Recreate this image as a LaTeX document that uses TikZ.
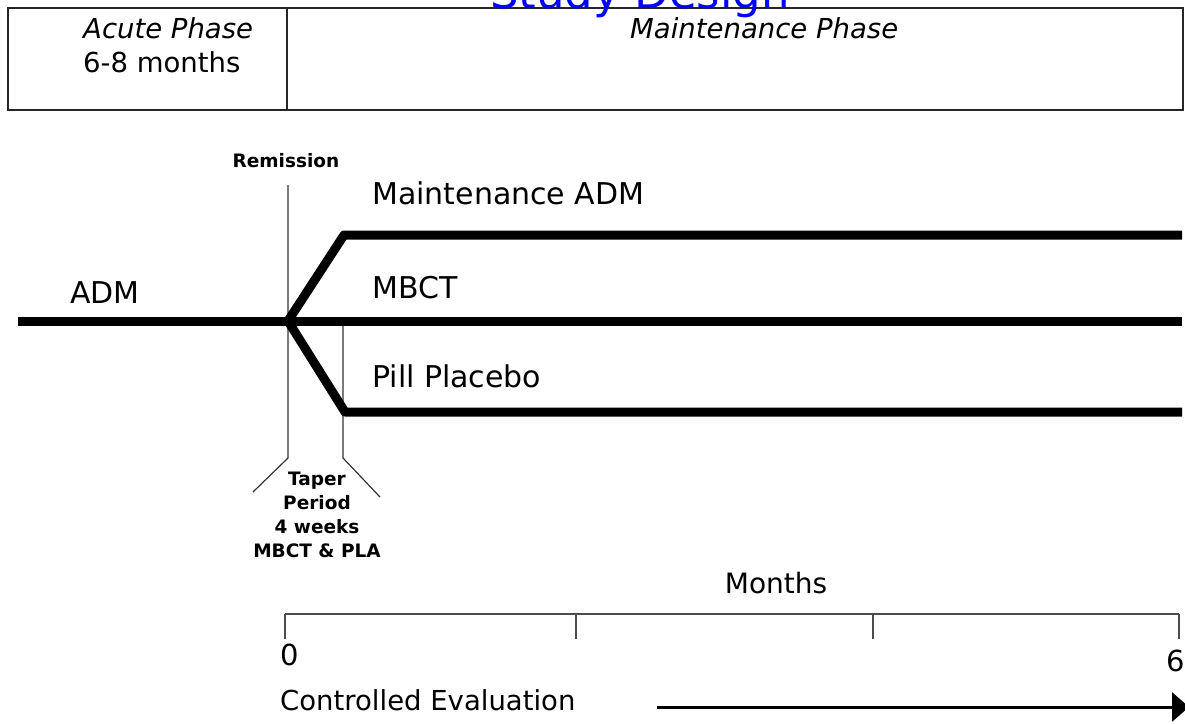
\documentclass[tikz,border=0pt]{standalone}
\usepackage{fontspec}
\setmainfont{DejaVu Sans}
\usetikzlibrary{arrows.meta}
\begin{document}
\begin{tikzpicture}[x=1pt,y=-1pt,
  lbl/.style={inner sep=0pt, anchor=base west, font=\fontsize{30}{36}\selectfont},
  phase/.style={inner sep=0pt, anchor=base west, font=\fontsize{27.5}{33}\selectfont\itshape},
  small/.style={inner sep=0pt, anchor=base, font=\fontsize{18.5}{24}\selectfont\bfseries, align=center},
  axlbl/.style={inner sep=0pt, anchor=base, font=\fontsize{29}{34}\selectfont},
  thickln/.style={line width=9pt, line join=round},
  thinln/.style={line width=1.2pt, draw=black!80},
  boxln/.style={line width=2pt, draw=black!85},
  axisln/.style={line width=1.5pt, draw=black!70}]
\useasboundingbox (0,0) rectangle (1185,723);
\fill[white] (0,0) rectangle (1185,723);

% top phase box
\coordinate (boxTL) at (8,8);
\coordinate (boxBR) at (1183,110);
\coordinate (divT) at (287,8);
\coordinate (divB) at (287,110);
\draw[boxln] (boxTL) rectangle (boxBR);
\draw[boxln] (divT) -- (divB);
\node[text=blue, font=\fontsize{45}{54}\selectfont, anchor=base, inner sep=0pt] (title) at (640,8) {Study Design};
\node[phase] (acute) at (83,38) {Acute Phase};
\node[inner sep=0pt, anchor=base west, font=\fontsize{27.5}{33}\selectfont] (months68) at (83,72) {6-8 months};
\node[phase] (maint) at (630,38) {Maintenance Phase};

% remission marker
\node[small] (remission) at (286,167) {Remission};
\coordinate (remtop) at (288,185);
\coordinate (remleg) at (288,458);
\coordinate (remfoot) at (253,492);
\draw[thinln] (remtop) -- (remleg) -- (remfoot);

% taper marker
\coordinate (tapertop) at (343,321);
\coordinate (taperleg) at (343,458);
\coordinate (taperfoot) at (380,497);
\draw[thinln] (tapertop) -- (taperleg) -- (taperfoot);
\node[small] (taper) at (317,557) {Taper\\Period\\4 weeks\\MBCT \& PLA};

% treatment lines
\coordinate (adm0) at (18,321);
\coordinate (R) at (288,321);
\coordinate (mbct1) at (1182,321);
\coordinate (up) at (344,235);
\coordinate (up1) at (1182,235);
\coordinate (dn) at (345,412);
\coordinate (dn1) at (1182,412);
\draw[thickln] (adm0) -- (mbct1);
\draw[thickln] (R) -- (up) -- (up1);
\draw[thickln] (R) -- (dn) -- (dn1);

\node[lbl] (adm) at (70,303) {ADM};
\node[lbl] (madm) at (372,204) {Maintenance ADM};
\node[lbl] (mbct) at (372,298) {MBCT};
\node[lbl] (pill) at (372,387) {Pill Placebo};

% months axis
\coordinate (ax0) at (285,614);
\coordinate (ax2) at (576,614);
\coordinate (ax4) at (873,614);
\coordinate (ax6) at (1179,614);
\coordinate (t0) at (285,639);
\coordinate (t2) at (576,639);
\coordinate (t4) at (873,639);
\coordinate (t6) at (1179,639);
\draw[axisln] (ax0) -- (ax6);
\draw[axisln] (ax0) -- (t0);
\draw[axisln] (ax2) -- (t2);
\draw[axisln] (ax4) -- (t4);
\draw[axisln] (ax6) -- (t6);
\node[axlbl, font=\fontsize{28}{34}\selectfont] (monthslbl) at (776,593) {Months};
\node[axlbl] (zero) at (290,665) {0};
\node[axlbl] (six) at (1176,671) {6};

% controlled evaluation
\node[inner sep=0pt, anchor=base west, font=\fontsize{27.5}{33}\selectfont] (ctrl) at (280,710) {Controlled Evaluation};
\coordinate (arrS) at (657,707);
\coordinate (arrE) at (1189,707);
\draw[line width=3pt, -{Triangle[length=17pt,width=29pt]}] (arrS) -- (arrE);
\end{tikzpicture}
\end{document}
